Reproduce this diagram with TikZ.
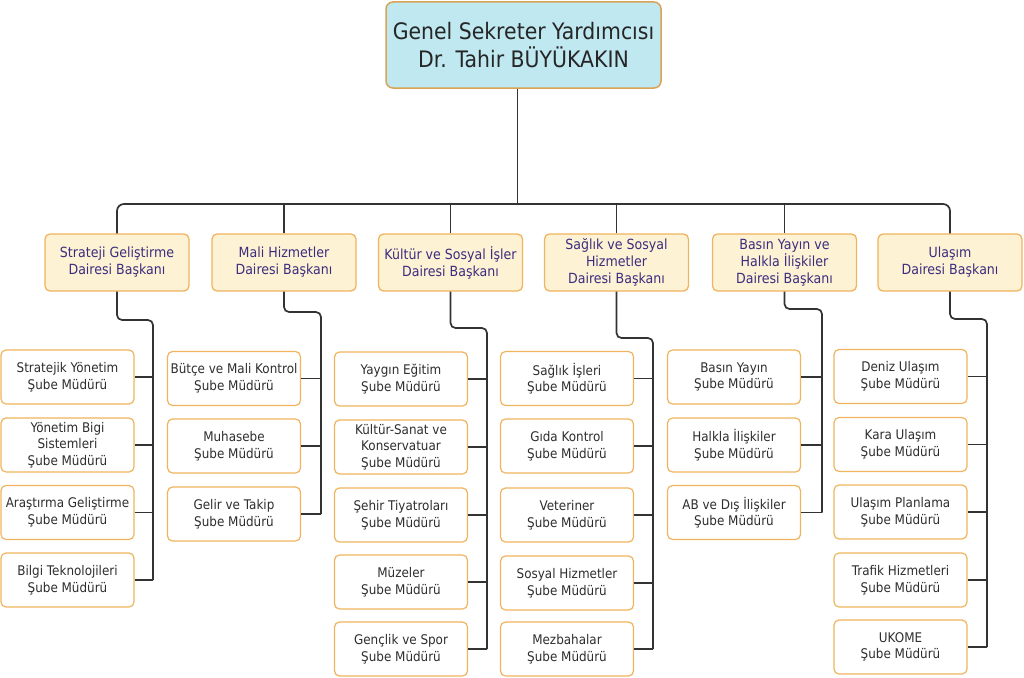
\documentclass[tikz,border=0pt]{standalone}
\usepackage{fontspec}
\setmainfont{DejaVu Sans}[FakeStretch=0.9]
\usetikzlibrary{calc}
\definecolor{topfill}{HTML}{BFE8F0}
\definecolor{topline}{HTML}{D9A254}
\definecolor{deptfill}{HTML}{FEF2D5}
\definecolor{boxline}{HTML}{F0B45E}
\definecolor{depttext}{HTML}{3B2D7E}
\definecolor{subtext}{HTML}{2E2E2E}
\definecolor{conncol}{HTML}{333333}
\tikzset{
  topbox/.style={draw=topline, fill=topfill, line width=1.5pt, rounded corners=7pt,
    minimum width=275pt, minimum height=86pt, align=center, inner sep=0pt,
    font=\fontsize{22.7}{28}\selectfont, text=black!85},
  deptbox/.style={draw=boxline, fill=deptfill, line width=1.3pt, rounded corners=5pt,
    minimum width=144pt, minimum height=57pt, align=center, inner sep=0pt,
    font=\fontsize{14}{17}\selectfont, text=depttext},
  subbox/.style={draw=boxline, fill=white, line width=1.2pt, rounded corners=5pt,
    minimum width=133pt, minimum height=54pt, align=center, inner sep=0pt,
    font=\fontsize{13.3}{16.6}\selectfont, text=subtext},
  conn/.style={draw=conncol, line width=1.7pt},
}
\begin{document}
\begin{tikzpicture}[x=1pt,y=-1pt]
\useasboundingbox (0,0) rectangle (1024,677);
% top
\node[topbox] (top) at (523.5,45) {Genel Sekreter Yardımcısı\\Dr. Tahir BÜYÜKAKIN};
% departments
\node[deptbox] (d1) at (117,262.5) {Strateji Geliştirme\\Dairesi Başkanı};
\node[deptbox] (d2) at (284,262.5) {Mali Hizmetler\\Dairesi Başkanı};
\node[deptbox] (d3) at (450.5,262.5) {Kültür ve Sosyal İşler\\Dairesi Başkanı};
\node[deptbox] (d4) at (616.5,262.5) {Sağlık ve Sosyal\\Hizmetler\\Dairesi Başkanı};
\node[deptbox] (d5) at (784.5,262.5) {Basın Yayın ve\\Halkla İlişkiler\\Dairesi Başkanı};
\node[deptbox] (d6) at (950,262.5) {Ulaşım\\Dairesi Başkanı};
% column 1
\node[subbox] (s11) at (67.5,377) {Stratejik Yönetim\\Şube Müdürü};
\node[subbox] (s12) at (67.5,445) {Yönetim Bigi\\Sistemleri\\Şube Müdürü};
\node[subbox] (s13) at (67.5,512.5) {Araştırma Geliştirme\\Şube Müdürü};
\node[subbox] (s14) at (67.5,580) {Bilgi Teknolojileri\\Şube Müdürü};
% column 2
\node[subbox] (s21) at (234,378.5) {Bütçe ve Mali Kontrol\\Şube Müdürü};
\node[subbox] (s22) at (234,446) {Muhasebe\\Şube Müdürü};
\node[subbox] (s23) at (234,514) {Gelir ve Takip\\Şube Müdürü};
% column 3
\node[subbox] (s31) at (401,379) {Yaygın Eğitim\\Şube Müdürü};
\node[subbox] (s32) at (401,447) {Kültür-Sanat ve\\Konservatuar\\Şube Müdürü};
\node[subbox] (s33) at (401,515) {Şehir Tiyatroları\\Şube Müdürü};
\node[subbox] (s34) at (401,582) {Müzeler\\Şube Müdürü};
\node[subbox] (s35) at (401,649) {Gençlik ve Spor\\Şube Müdürü};
% column 4
\node[subbox] (s41) at (567,378.5) {Sağlık İşleri\\Şube Müdürü};
\node[subbox] (s42) at (567,446) {Gıda Kontrol\\Şube Müdürü};
\node[subbox] (s43) at (567,515) {Veteriner\\Şube Müdürü};
\node[subbox] (s44) at (567,583) {Sosyal Hizmetler\\Şube Müdürü};
\node[subbox] (s45) at (567,649) {Mezbahalar\\Şube Müdürü};
% column 5
\node[subbox] (s51) at (734,377) {Basın Yayın\\Şube Müdürü};
\node[subbox] (s52) at (734,445) {Halkla İlişkiler\\Şube Müdürü};
\node[subbox] (s53) at (734,512.5) {AB ve Dış İlişkiler\\Şube Müdürü};
% column 6
\node[subbox] (s61) at (900.5,376.5) {Deniz Ulaşım\\Şube Müdürü};
\node[subbox] (s62) at (900.5,444.5) {Kara Ulaşım\\Şube Müdürü};
\node[subbox] (s63) at (900.5,512) {Ulaşım Planlama\\Şube Müdürü};
\node[subbox] (s64) at (900.5,580) {Trafik Hizmetleri\\Şube Müdürü};
\node[subbox] (s65) at (900.5,647) {UKOME\\Şube Müdürü};
% main bus
\coordinate (bus) at (517.5,204);
\draw[conn] (top.south -| bus) -- (bus);
\draw[conn, rounded corners=7pt] (d1.north) |- (bus) -| (d6.north);
\foreach \d in {d2,d3,d4,d5} \draw[conn] (\d.north) -- (\d.north |- bus);
% department to sub connectors
\coordinate (e1) at (153,320);
\coordinate (e2) at (321,312);
\coordinate (e3) at (487,328);
\coordinate (e4) at (653,338);
\coordinate (e5) at (822,309);
\coordinate (e6) at (987,319);
\draw[conn, rounded corners=5pt] (d1.south) |- (e1) -- (e1 |- s14.east);
\draw[conn, rounded corners=5pt] (d2.south) |- (e2) -- (e2 |- s23.east);
\draw[conn, rounded corners=5pt] (d3.south) |- (e3) -- (e3 |- s35.east);
\draw[conn, rounded corners=5pt] (d4.south) |- (e4) -- (e4 |- s45.east);
\draw[conn, rounded corners=5pt] (d5.south) |- (e5) -- (e5 |- s53.east);
\draw[conn, rounded corners=5pt] (d6.south) |- (e6) -- (e6 |- s65.east);
\foreach \s in {s11,s12,s13,s14} \draw[conn] (\s.east) -- (\s.east -| e1);
\foreach \s in {s21,s22,s23} \draw[conn] (\s.east) -- (\s.east -| e2);
\foreach \s in {s31,s32,s33,s34,s35} \draw[conn] (\s.east) -- (\s.east -| e3);
\foreach \s in {s41,s42,s43,s44,s45} \draw[conn] (\s.east) -- (\s.east -| e4);
\foreach \s in {s51,s52,s53} \draw[conn] (\s.east) -- (\s.east -| e5);
\foreach \s in {s61,s62,s63,s64,s65} \draw[conn] (\s.east) -- (\s.east -| e6);
\end{tikzpicture}
\end{document}
